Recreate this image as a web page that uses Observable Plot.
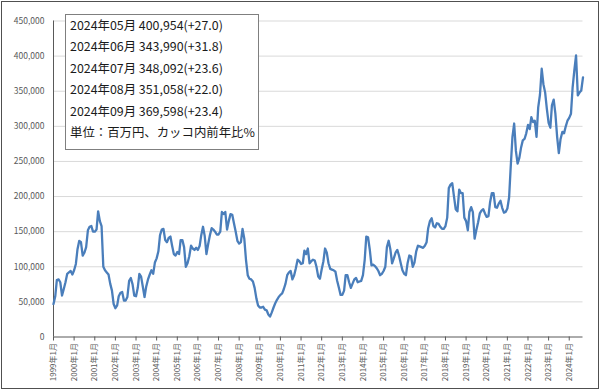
<!DOCTYPE html>
<html><head><meta charset="utf-8">
<script src="https://cdn.jsdelivr.net/npm/d3@7"></script>
<script src="https://cdn.jsdelivr.net/npm/@observablehq/plot@0.6"></script>
<style>
body{margin:0;background:#fff;}
#wrap{position:relative;width:600px;height:390px;overflow:hidden;}
#frame{position:absolute;left:1px;top:1px;width:596px;height:386px;border:1px solid #505050;pointer-events:none;}
#note{position:absolute;left:65px;top:14px;width:194px;height:136px;border:1px solid #7f7f7f;background:#fff;
  box-sizing:border-box;padding:0 0 0 4px;font-family:"Noto Sans CJK JP","Noto Sans",sans-serif;font-size:12.4px;line-height:21.4px;color:#1a1a1a;white-space:nowrap;}
</style>
</head><body>
<div id="wrap"><div id="chart"></div><div id="note"></div><div id="frame"></div></div>
<script>
const startYear = 1999;
// 月次値（百万円）1999年1月〜2024年9月
const values = [
  47000,58000,81000,82000,78000,59000,68000,78000,90000,92000,94000,89000,
  95000,104000,125000,137000,135000,116000,120000,128000,152000,157000,158000,150000,
  150000,153000,179000,165000,158000,100000,95000,92000,89000,76000,66000,47000,
  41000,45000,58000,63000,64000,52000,52000,57000,80000,84000,75000,59000,
  58000,70000,90000,86000,72000,57000,72000,82000,89000,95000,90000,106000,
  112000,122000,145000,153000,154000,138000,135000,141000,143000,130000,118000,116000,
  121000,118000,138000,138000,128000,100000,105000,115000,130000,126000,124000,127000,
  124000,130000,145000,157000,144000,118000,132000,145000,155000,153000,150000,146000,
  146000,150000,178000,175000,178000,153000,165000,175000,174000,162000,150000,137000,
  133000,135000,154000,140000,110000,88000,83000,82000,79000,70000,55000,45000,
  42000,42000,43000,39000,38000,32000,29000,35000,42000,48000,53000,57000,
  60000,62000,68000,76000,88000,92000,94000,82000,88000,98000,110000,108000,
  104000,105000,123000,118000,126000,105000,108000,110000,109000,100000,86000,83000,
  96000,108000,126000,120000,105000,97000,96000,95000,93000,80000,70000,60000,
  60000,66000,88000,88000,78000,70000,76000,82000,84000,78000,79000,80000,
  88000,110000,143000,142000,125000,102000,103000,101000,98000,94000,88000,90000,
  94000,100000,128000,137000,125000,105000,112000,120000,124000,116000,105000,95000,
  90000,88000,105000,116000,115000,100000,106000,122000,130000,129000,128000,127000,
  130000,135000,155000,165000,169000,158000,156000,162000,161000,157000,154000,154000,
  158000,170000,212000,217000,219000,200000,182000,179000,210000,205000,205000,170000,
  165000,152000,178000,185000,178000,140000,152000,163000,176000,180000,182000,176000,
  171000,172000,192000,205000,205000,185000,184000,190000,194000,184000,177000,178000,
  183000,199000,242000,285000,304000,265000,247000,255000,270000,280000,282000,290000,
  302000,296000,313000,306000,308000,285000,327000,345000,382000,360000,348000,325000,
  305000,298000,330000,338000,318000,285000,262000,282000,292000,290000,300000,308000,
  312000,318000,355000,380000,400954,343990,348092,351058,369598
];
const yTicks = [0,50000,100000,150000,200000,250000,300000,350000,400000,450000];
const tickYears = d3.range(1999, 2025);
const notes = [
  "2024年05月 400,954(+27.0)",
  "2024年06月 343,990(+31.8)",
  "2024年07月 348,092(+23.6)",
  "2024年08月 351,058(+22.0)",
  "2024年09月 369,598(+23.4)",
  "単位：百万円、カッコ内前年比%"
];

const data = values.map((v, i) => ({date: new Date(Date.UTC(startYear, i, 1)), value: v}));
const xTicks = tickYears.map(y => new Date(Date.UTC(y, 0, 1)));

const chart = Plot.plot({
  width: 600, height: 390,
  marginLeft: 53, marginRight: 17.5, marginTop: 20.5, marginBottom: 53.5,
  style: {fontFamily: '"Noto Sans CJK JP","Noto Sans",sans-serif', fontSize: "8px", color: "#595959", background: "#fff"},
  x: {type: "utc", domain: [data[0].date, data[data.length - 1].date], label: null},
  y: {domain: [0, 450000], label: null},
  marks: [
    Plot.gridY(yTicks.slice(1), {stroke: "#d9d9d9", strokeOpacity: 1}),
    Plot.axisY(yTicks, {tickSize: 0, tickPadding: 9, tickFormat: d3.format(","), fontSize: 8.5, label: null}),
    Plot.ruleX([data[0].date], {stroke: "#595959"}),
    Plot.ruleY([0], {stroke: "#595959"}),
    Plot.axisX(xTicks, {tickRotate: -90, tickSize: 4, tickPadding: 2, stroke: "#595959",
      tickFormat: d => `${d.getUTCFullYear()}年1月`, label: null}),
    Plot.line(data, {x: "date", y: "value", stroke: "#4a7ebb", strokeWidth: 2.3, strokeLinejoin: "round"})
  ]
});
document.getElementById("chart").appendChild(chart);
document.getElementById("note").innerHTML = notes.map(t => `<div>${t}</div>`).join("");
</script>
</body></html>
